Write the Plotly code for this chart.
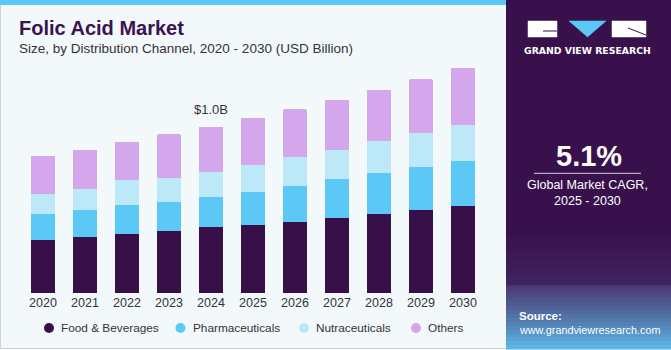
import plotly.graph_objects as go

years = ["2020", "2021", "2022", "2023", "2024", "2025", "2026", "2027", "2028", "2029", "2030"]
food = [0.319, 0.339, 0.352, 0.370, 0.394, 0.406, 0.429, 0.449, 0.473, 0.497, 0.525]
pharma = [0.154, 0.158, 0.180, 0.177, 0.186, 0.203, 0.212, 0.235, 0.247, 0.259, 0.271]
nutra = [0.124, 0.130, 0.149, 0.146, 0.150, 0.162, 0.174, 0.174, 0.192, 0.204, 0.216]
others = [0.228, 0.235, 0.229, 0.263, 0.269, 0.283, 0.291, 0.305, 0.311, 0.325, 0.343]
series_names = ["Food & Beverages", "Pharmaceuticals", "Nutraceuticals", "Others"]
series_colors = ["#37104a", "#5bc8f5", "#bde8f8", "#d4a6ec"]
highlight_year = "2024"
highlight_label = "$1.0B"
cagr_value = "5.1%"
cagr_text = "Global Market CAGR,<br>2025 - 2030"

W, H = 671, 350
L, R, T, B = 22, 187, 60, 57
PW, PH = W - L - R, H - T - B


def px(x):
    return (x - L) / PW


def py(y):
    return 1 - (y - T) / PH


def poly(pts):
    return "M " + " L ".join(f"{px(x)},{py(y)}" for x, y in pts) + " Z"


FONT = "Liberation Sans, Arial, sans-serif"

fig = go.Figure()
for name, vals, col in zip(series_names, [food, pharma, nutra, others], series_colors):
    fig.add_trace(go.Bar(x=years, y=vals, name=name, marker=dict(color=col, line=dict(width=0)),
                         width=0.57, showlegend=False, hoverinfo="skip"))

shapes = []
annotations = []

# card background
shapes.append(dict(type="rect", xref="paper", yref="paper", x0=px(0.5), x1=px(512), y0=py(348.5), y1=py(0),
                   fillcolor="#f3f8fb", line=dict(color="#cfd3d6", width=1), layer="below"))
shapes.append(dict(type="rect", xref="paper", yref="paper", x0=px(0), x1=px(508), y0=py(5), y1=py(0),
                   fillcolor="#5bc8f5", line=dict(width=0), layer="below"))

# right panel
shapes.append(dict(type="rect", xref="paper", yref="paper", x0=px(506), x1=px(671), y0=py(349), y1=py(0),
                   fillcolor="#38114c", line=dict(width=0), layer="below"))


def lerp(c1, c2, t):
    a = [int(c1[i:i + 2], 16) for i in (1, 3, 5)]
    b = [int(c2[i:i + 2], 16) for i in (1, 3, 5)]
    return "#%02x%02x%02x" % tuple(round(a[k] + (b[k] - a[k]) * t) for k in range(3))


y_start, y_end = 230, 349
n = 30
for i in range(n):
    y0 = y_start + (y_end - y_start) * i / n
    y1 = y_start + (y_end - y_start) * (i + 1) / n
    if y0 < 283:
        c = lerp("#38114c", "#3f2560", (y0 - y_start) / (283 - y_start))
    else:
        tt = (y0 - 283) / (y_end - 283)
        c = lerp("#4a3a72", "#5cbdec", tt ** 1.1)
    shapes.append(dict(type="rect", xref="paper", yref="paper", x0=px(506), x1=px(671), y0=py(y1 + 0.5), y1=py(y0),
                       fillcolor=c, line=dict(width=0), layer="below"))

# logo (solid blocks)
shapes.append(dict(type="rect", xref="paper", yref="paper", x0=px(528), x1=px(557), y0=py(37), y1=py(21),
                   fillcolor="#ffffff", line=dict(color="#ffffff", width=0.5), layer="below"))
shapes.append(dict(type="rect", xref="paper", yref="paper", x0=px(543), x1=px(557), y0=py(31.5), y1=py(30.5),
                   fillcolor="#38114c", line=dict(width=0), layer="below"))
shapes.append(dict(type="path", xref="paper", yref="paper",
                   path=poly([(569, 21), (606, 21), (587.5, 37)]),
                   fillcolor="#5bc8f5", line=dict(color="#5bc8f5", width=0.5), layer="below"))
shapes.append(dict(type="rect", xref="paper", yref="paper", x0=px(612), x1=px(646), y0=py(37), y1=py(21),
                   fillcolor="#ffffff", line=dict(color="#ffffff", width=0.5), layer="below"))
shapes.append(dict(type="path", xref="paper", yref="paper",
                   path=poly([(628, 27.5), (646, 34.5), (646, 35.5), (628, 28.5)]),
                   fillcolor="#38114c", line=dict(width=0), layer="below"))
annotations.append(dict(xref="paper", yref="paper", x=px(587), y=py(51), text="<b>GRAND VIEW RESEARCH</b>",
                        showarrow=False, font=dict(family="DejaVu Sans, sans-serif", size=9.3, color="white"),
                        xanchor="center", yanchor="middle"))

# CAGR
annotations.append(dict(xref="paper", yref="paper", x=px(588.5), y=py(155.5), text=f"<b>{cagr_value}</b>",
                        showarrow=False, font=dict(family=FONT, size=29, color="white"),
                        xanchor="center", yanchor="middle"))
shapes.append(dict(type="line", xref="paper", yref="paper", x0=px(534), x1=px(641), y0=py(173.3), y1=py(173.3),
                   line=dict(color="#d8d0e0", width=1)))
annotations.append(dict(xref="paper", yref="paper", x=px(587.5), y=py(192.5), text=cagr_text,
                        showarrow=False, font=dict(family=FONT, size=12.5, color="white"),
                        xanchor="center", yanchor="middle", align="center"))

# source
annotations.append(dict(xref="paper", yref="paper", x=px(517), y=py(316), text="<b>Source:</b>",
                        showarrow=False, font=dict(family=FONT, size=11.5, color="white"),
                        xanchor="left", yanchor="middle"))
annotations.append(dict(xref="paper", yref="paper", x=px(517), y=py(330), text="www.grandviewresearch.com",
                        showarrow=False, font=dict(family=FONT, size=10.8, color="white"),
                        xanchor="left", yanchor="middle"))

# title
annotations.append(dict(xref="paper", yref="paper", x=px(17), y=py(28), text="<b>Folic Acid Market</b>",
                        showarrow=False, font=dict(family=FONT, size=20, color="#3a1450"),
                        xanchor="left", yanchor="middle"))
annotations.append(dict(xref="paper", yref="paper", x=px(17), y=py(49), text="Size, by Distribution Channel, 2020 - 2030 (USD Billion)",
                        showarrow=False, font=dict(family=FONT, size=13.5, color="#333333"),
                        xanchor="left", yanchor="middle"))

# highlight label
hi = years.index(highlight_year)
tot = food[hi] + pharma[hi] + nutra[hi] + others[hi]
annotations.append(dict(xref="x", yref="y", x=hi, y=tot, text=highlight_label, yshift=8,
                        showarrow=False, font=dict(family=FONT, size=13, color="#333333"),
                        xanchor="center", yanchor="bottom"))

# legend (manual)
leg_marker_x = [49, 180.5, 304, 416]
leg_y = 328
for mx, name, col in zip(leg_marker_x, series_names, series_colors):
    shapes.append(dict(type="circle", xref="paper", yref="paper", x0=px(mx - 5), x1=px(mx + 5),
                       y0=py(leg_y + 5), y1=py(leg_y - 5), fillcolor=col, line=dict(width=0)))
    annotations.append(dict(xref="paper", yref="paper", x=px(mx + 10), y=py(leg_y), text=name,
                            showarrow=False, font=dict(family=FONT, size=11.8, color="#333333"),
                            xanchor="left", yanchor="middle"))

fig.update_layout(
    width=W, height=H, margin=dict(l=L, r=R, t=T, b=B, pad=0),
    paper_bgcolor="white", plot_bgcolor="rgba(0,0,0,0)",
    barmode="stack", bargap=0.43, barcornerradius=2,
    shapes=shapes, annotations=annotations, showlegend=False,
    xaxis=dict(type="category", range=[-0.5, 10.5], showgrid=False, zeroline=False, showline=False,
               ticks="", tickfont=dict(family=FONT, size=12.5, color="#333333"), fixedrange=True),
    yaxis=dict(range=[0, 1.401], visible=False, fixedrange=True),
)

fig.write_html("out.html")
